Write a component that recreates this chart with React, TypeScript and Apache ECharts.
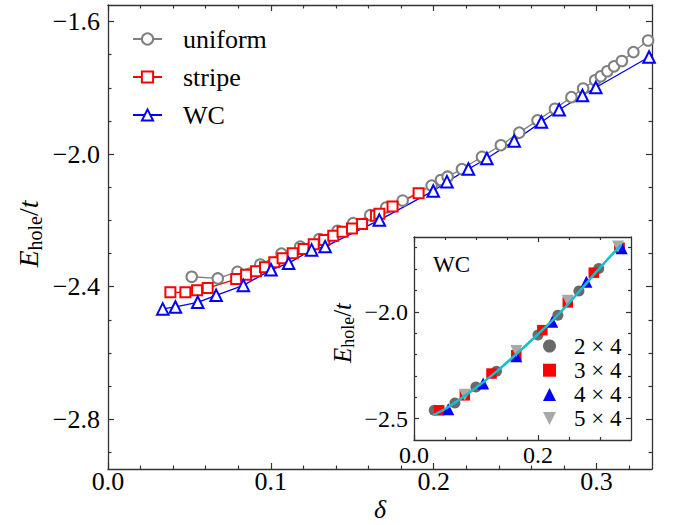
import React, { useEffect, useRef } from 'react';
import * as echarts from 'echarts';

// ---------- main panel data ----------
const uniformDelta = [0.0514, 0.0674, 0.0795, 0.0935, 0.1065, 0.118, 0.1298, 0.141, 0.1505, 0.161, 0.1708, 0.1809, 0.1987, 0.2044, 0.2085, 0.2173, 0.2296, 0.2412, 0.2525, 0.2637, 0.2744, 0.2845, 0.2917, 0.2991, 0.3026, 0.3066, 0.3107, 0.3155, 0.3226, 0.3316];
const uniformE = [-2.370, -2.375, -2.355, -2.333, -2.300, -2.279, -2.256, -2.231, -2.208, -2.184, -2.161, -2.140, -2.095, -2.078, -2.068, -2.045, -2.008, -1.973, -1.935, -1.898, -1.863, -1.828, -1.802, -1.777, -1.765, -1.750, -1.735, -1.719, -1.692, -1.657];

const stripeDelta = [0.0383, 0.0475, 0.0547, 0.0612, 0.0787, 0.0848, 0.0909, 0.0964, 0.1021, 0.1072, 0.1134, 0.1201, 0.1263, 0.1328, 0.1383, 0.1440, 0.1498, 0.1560, 0.1645, 0.1666, 0.1747, 0.1907];
const stripeE = [-2.417, -2.417, -2.411, -2.404, -2.377, -2.364, -2.353, -2.341, -2.326, -2.314, -2.299, -2.286, -2.272, -2.259, -2.246, -2.234, -2.224, -2.211, -2.186, -2.180, -2.158, -2.118];

const wcDelta = [0.0336, 0.0414, 0.0551, 0.0664, 0.0831, 0.1001, 0.1109, 0.1250, 0.1333, 0.1666, 0.1997, 0.2081, 0.2213, 0.2326, 0.2494, 0.2661, 0.2770, 0.2913, 0.2995, 0.3322];
const wcE = [-2.467, -2.461, -2.447, -2.426, -2.396, -2.349, -2.329, -2.289, -2.279, -2.199, -2.111, -2.083, -2.045, -2.013, -1.960, -1.903, -1.866, -1.823, -1.799, -1.707];

// ---------- inset data ----------
const c2x4Delta = [0.0327, 0.066, 0.0998, 0.133, 0.2, 0.232, 0.266, 0.298, 0.3315];
const c2x4E = [-2.461, -2.427, -2.352, -2.278, -2.109, -2.016, -1.903, -1.797, -1.700];
const c3x4Delta = [0.0407, 0.082, 0.125, 0.165, 0.207, 0.248, 0.290, 0.3315];
const c3x4E = [-2.461, -2.391, -2.289, -2.203, -2.086, -1.956, -1.817, -1.700];
const c4x4Delta = [0.0552, 0.1115, 0.165, 0.223, 0.278, 0.335];
const c4x4E = [-2.456, -2.336, -2.208, -2.047, -1.859, -1.703];
const c5x4Delta = [0.082, 0.165, 0.248, 0.329];
const c5x4E = [-2.388, -2.184, -1.948, -1.695];
const fitDelta = [0.031, 0.05, 0.066, 0.083, 0.1, 0.133, 0.165, 0.2, 0.233, 0.266, 0.298, 0.334];
const fitE = [-2.484, -2.455, -2.425, -2.392, -2.356, -2.28, -2.198, -2.105, -2.012, -1.907, -1.8, -1.687];

// ---------- ticks ----------
const mainXMajor = [0, 0.1, 0.2, 0.3];
const mainXMinor = [0.02, 0.04, 0.06, 0.08, 0.12, 0.14, 0.16, 0.18, 0.22, 0.24, 0.26, 0.28, 0.32];
const mainYMajor = [-2.8, -2.4, -2.0, -1.6];
const mainYMinor = [-2.9, -2.7, -2.6, -2.5, -2.3, -2.2, -2.1, -1.9, -1.8, -1.7];
const insetXMajor = [0, 0.2];
const insetXMinor = [0.05, 0.1, 0.15, 0.25, 0.3];
const insetYMajor = [-2.5, -2.0];
const insetYMinor = [-2.4, -2.3, -2.2, -2.1, -1.9, -1.8, -1.7];

const mainNames = ['uniform', 'stripe', 'WC'];
const insetNames = ['2 \u00d7 4', '3 \u00d7 4', '4 \u00d7 4', '5 \u00d7 4'];

const FONT = "'Liberation Serif', 'Times New Roman', serif";
const AXIS = '#333333';
const DOWN_TRIANGLE = 'path://M0,0L10,0L5,10Z';

const zip = (xs: number[], ys: number[]) => xs.map((x, i) => [x, ys[i]]);
const fmt = (v: number) => (v < 0 ? '\u2212' : '') + Math.abs(v).toFixed(1);

function axisSet(dim: 'x' | 'y', gridIndex: number, min: number, max: number, major: number[], minor: number[], o: any) {
  const pos = dim === 'x' ? ['bottom', 'top'] : ['left', 'right'];
  const mk = (position: string, ticks: number[], len: number, showLine: boolean, showLabel: boolean) => ({
    type: 'value', gridIndex, position, min, max,
    splitLine: { show: false },
    axisLine: { show: showLine, onZero: false, lineStyle: { color: AXIS, width: 1.3 } },
    axisTick: { show: true, inside: true, length: len, customValues: ticks, lineStyle: { color: AXIS, width: 1.2 } },
    axisLabel: showLabel
      ? { show: true, customValues: major, formatter: fmt, margin: o.margin, fontSize: o.fontSize, fontFamily: FONT, color: '#000' }
      : { show: false },
  });
  return [
    mk(pos[0], major, o.majorLen, true, true),
    mk(pos[0], minor, o.minorLen, false, false),
    mk(pos[1], major, o.majorLen, true, false),
    mk(pos[1], minor, o.minorLen, false, false),
  ];
}

export default function App() {
  const ref = useRef<HTMLDivElement>(null);
  useEffect(() => {
    if (!ref.current) return;
    const chart = echarts.init(ref.current, null, { renderer: 'svg' });
    const xMain = axisSet('x', 0, 0, 0.334, mainXMajor, mainXMinor, { margin: -1, fontSize: 26, majorLen: 6, minorLen: 3.5 });
    const yMain = axisSet('y', 0, -2.95, -1.55, mainYMajor, mainYMinor, { margin: 8, fontSize: 26, majorLen: 6, minorLen: 3.5 });
    const xIn = axisSet('x', 1, 0, 0.35, insetXMajor, insetXMinor, { margin: 3, fontSize: 24, majorLen: 5, minorLen: 3 });
    const yIn = axisSet('y', 1, -2.6, -1.65, insetYMajor, insetYMinor, { margin: 6, fontSize: 24, majorLen: 5, minorLen: 3 });

    const sub = (size: number, sub: number, pad: number) => ({
      i: { fontFamily: FONT, fontStyle: 'italic', fontSize: size, color: '#000' },
      s: { fontFamily: FONT, fontSize: sub, color: '#000', padding: [pad, 0, 0, 0] },
      n: { fontFamily: FONT, fontSize: size, color: '#000' },
    });

    const option: any = {
      animation: false,
      backgroundColor: '#fff',
      grid: [
        { left: 108, top: 5, width: 544, height: 464, containLabel: false, outerBoundsMode: 'none' },
        { left: 414, top: 237, width: 217, height: 203, show: true, backgroundColor: '#fff', borderWidth: 0, containLabel: false, outerBoundsMode: 'none' },
      ],
      xAxis: [...xMain, ...xIn],
      yAxis: [...yMain, ...yIn],
      legend: [
        {
          data: mainNames, orient: 'vertical', left: 132, top: 26, itemWidth: 29, itemHeight: 14, itemGap: 12,
          selectedMode: false, padding: 0,
          textStyle: { fontFamily: FONT, fontSize: 26, color: '#000', padding: [0, 0, 0, 16] },
        },
        {
          data: insetNames.map((n, i) => (i === 3 ? { name: n, icon: DOWN_TRIANGLE } : { name: n })),
          orient: 'vertical', left: 543, top: 334.5, itemWidth: 13, itemHeight: 13, itemGap: 1.2,
          selectedMode: false, padding: 0,
          textStyle: { fontFamily: FONT, fontSize: 23, color: '#000', padding: [0, 0, 0, 13] },
        },
      ],
      graphic: [
        {
          type: 'text', x: 380, y: 509,
          style: { text: '\u03b4', fontFamily: FONT, fontStyle: 'italic', fontSize: 26, fill: '#000', align: 'center', verticalAlign: 'middle' },
        },
        {
          type: 'text', x: 28, y: 234, rotation: Math.PI / 2,
          style: { text: '{i|E}{s|hole}{n|/}{i|t}', rich: sub(28, 20, 14), align: 'center', verticalAlign: 'middle' },
        },
        {
          type: 'text', x: 342, y: 333, rotation: Math.PI / 2, z: 100,
          style: { text: '{i|E}{s|hole}{n|/}{i|t}', rich: sub(25, 18, 12), align: 'center', verticalAlign: 'middle' },
        },
        {
          type: 'text', x: 433, y: 264, z: 100,
          style: { text: 'WC', fontFamily: FONT, fontSize: 23, fill: '#000', align: 'left', verticalAlign: 'middle' },
        },
      ],
      series: [
        {
          type: 'line', name: 'uniform', xAxisIndex: 0, yAxisIndex: 0, data: zip(uniformDelta, uniformE),
          symbol: 'emptyCircle', symbolSize: 10.5, color: '#808080',
          lineStyle: { width: 1.3, color: '#808080' }, itemStyle: { borderWidth: 1.8 },
        },
        {
          type: 'line', name: 'stripe', xAxisIndex: 0, yAxisIndex: 0, data: zip(stripeDelta, stripeE),
          symbol: 'emptyRect', symbolSize: 10, color: '#ff0000',
          lineStyle: { width: 1.3, color: '#ff0000' }, itemStyle: { borderWidth: 1.8 },
        },
        {
          type: 'line', name: 'WC', xAxisIndex: 0, yAxisIndex: 0, data: zip(wcDelta, wcE),
          symbol: 'emptyTriangle', symbolSize: 11.5, color: '#0000ff',
          lineStyle: { width: 1.3, color: '#0000ff' }, itemStyle: { borderWidth: 1.8 },
        },
        {
          type: 'scatter', name: insetNames[0], xAxisIndex: 4, yAxisIndex: 4, data: zip(c2x4Delta, c2x4E),
          symbol: 'circle', symbolSize: 11, itemStyle: { color: '#696969', opacity: 1 },
        },
        {
          type: 'scatter', name: insetNames[1], xAxisIndex: 4, yAxisIndex: 4, data: zip(c3x4Delta, c3x4E),
          symbol: 'rect', symbolSize: 10.5, itemStyle: { color: '#ff0000', opacity: 1 },
        },
        {
          type: 'scatter', name: insetNames[2], xAxisIndex: 4, yAxisIndex: 4, data: zip(c4x4Delta, c4x4E),
          symbol: 'triangle', symbolSize: 12, itemStyle: { color: '#0000ff', opacity: 1 },
        },
        {
          type: 'scatter', name: insetNames[3], xAxisIndex: 4, yAxisIndex: 4, data: zip(c5x4Delta, c5x4E),
          symbol: DOWN_TRIANGLE, symbolSize: 12, itemStyle: { color: '#a9a9a9', opacity: 1 },
        },
        {
          type: 'line', name: 'fit', xAxisIndex: 4, yAxisIndex: 4, data: zip(fitDelta, fitE),
          smooth: 0.4, showSymbol: false, symbol: 'none', lineStyle: { width: 2.5, color: '#17becf' }, color: '#17becf', z: 5,
        },
      ],
    };
    chart.setOption(option);
    return () => chart.dispose();
  }, []);
  return <div ref={ref} style={{ position: 'fixed', left: 0, top: 0, width: 688, height: 525 }} />;
}
